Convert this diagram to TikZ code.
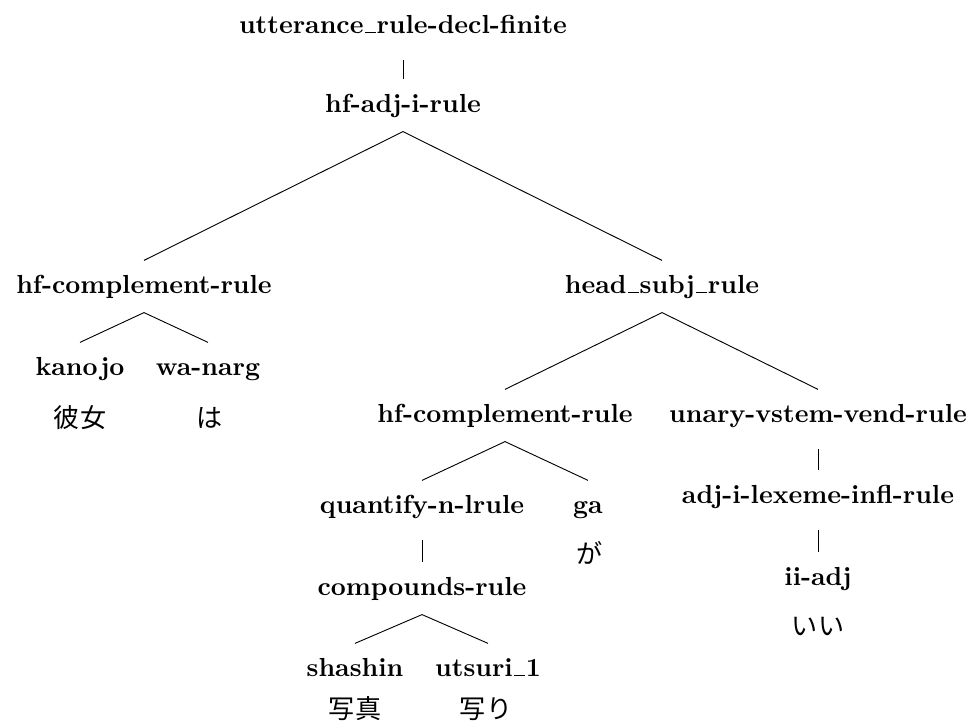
\documentclass[tikz,border=0pt]{standalone}
\usepackage{fontspec}
\newfontfamily\jpfont{Noto Sans CJK JP}
\newcommand\usc{\leavevmode\kern.06em\vbox{\hrule width.42em height.55pt}\kern.02em}
\begin{document}
\begin{tikzpicture}[x=0.383pt,y=-0.383pt,
  lbl/.style={font=\bfseries, anchor=base, text height=7pt, text depth=2pt, inner xsep=0pt, inner ysep=5.3pt},
  jp/.style={font=\jpfont, anchor=base, inner sep=0pt},
  edge/.style={line width=0.35pt},
  uedge/.style={edge, shorten <=3pt}]
\useasboundingbox (0,0) rectangle (973,727);
% labels
\node[lbl] (utt) at (403,33) {utterance\usc rule-decl-finite};
\node[lbl] (hfadj) at (403,112) {hf-adj-i-rule};
\node[lbl] (hfcL) at (144,293) {hf-complement-rule};
\node[lbl] (hsubj) at (662,293) {head\usc subj\usc rule};
\node[lbl] (kanojo) at (80,375) {kano\kern1pt jo};
\node[lbl] (wanarg) at (208,375) {wa-narg};
\node[lbl] (hfcM) at (505,422) {hf-complement-rule};
\node[lbl] (unary) at (818,422) {unary-vstem-vend-rule};
\node[lbl] (quant) at (422,513) {quantify-n-lrule};
\node[lbl] (ga) at (588,513) {ga};
\node[lbl] (adjinfl) at (818,503) {adj-i-lexeme-infl-rule};
\node[lbl] (comp) at (422,595) {compounds-rule};
\node[lbl] (iiadj) at (818,585) {ii-adj};
\node[lbl] (shashin) at (355,676) {shashin};
\node[lbl] (utsuri) at (488,676) {utsuri\usc 1};
% Japanese words
\node[jp] (jkanojo) at (80,427) {彼女};
\node[jp] (jwa) at (210,427) {は};
\node[jp] (jga) at (590,563) {が};
\node[jp] (jii) at (818,635) {いい};
\node[jp] (jshashin) at (355,718) {写真};
\node[jp] (jutsuri) at (486,718) {写り};
% connectors
\draw[uedge] (utt.south) -- (hfadj.north);
\draw[edge] (hfcL.north) -- (hfadj.south) -- (hsubj.north);
\draw[edge] (kanojo.north) -- (hfcL.south) -- (wanarg.north);
\draw[edge] (hfcM.north) -- (hsubj.south) -- (unary.north);
\draw[edge] (quant.north) -- (hfcM.south) -- (ga.north);
\draw[uedge] (quant.south) -- (comp.north);
\draw[edge] (shashin.north) -- (comp.south) -- (utsuri.north);
\draw[uedge] (unary.south) -- (adjinfl.north);
\draw[uedge] (adjinfl.south) -- (iiadj.north);
\end{tikzpicture}
\end{document}
